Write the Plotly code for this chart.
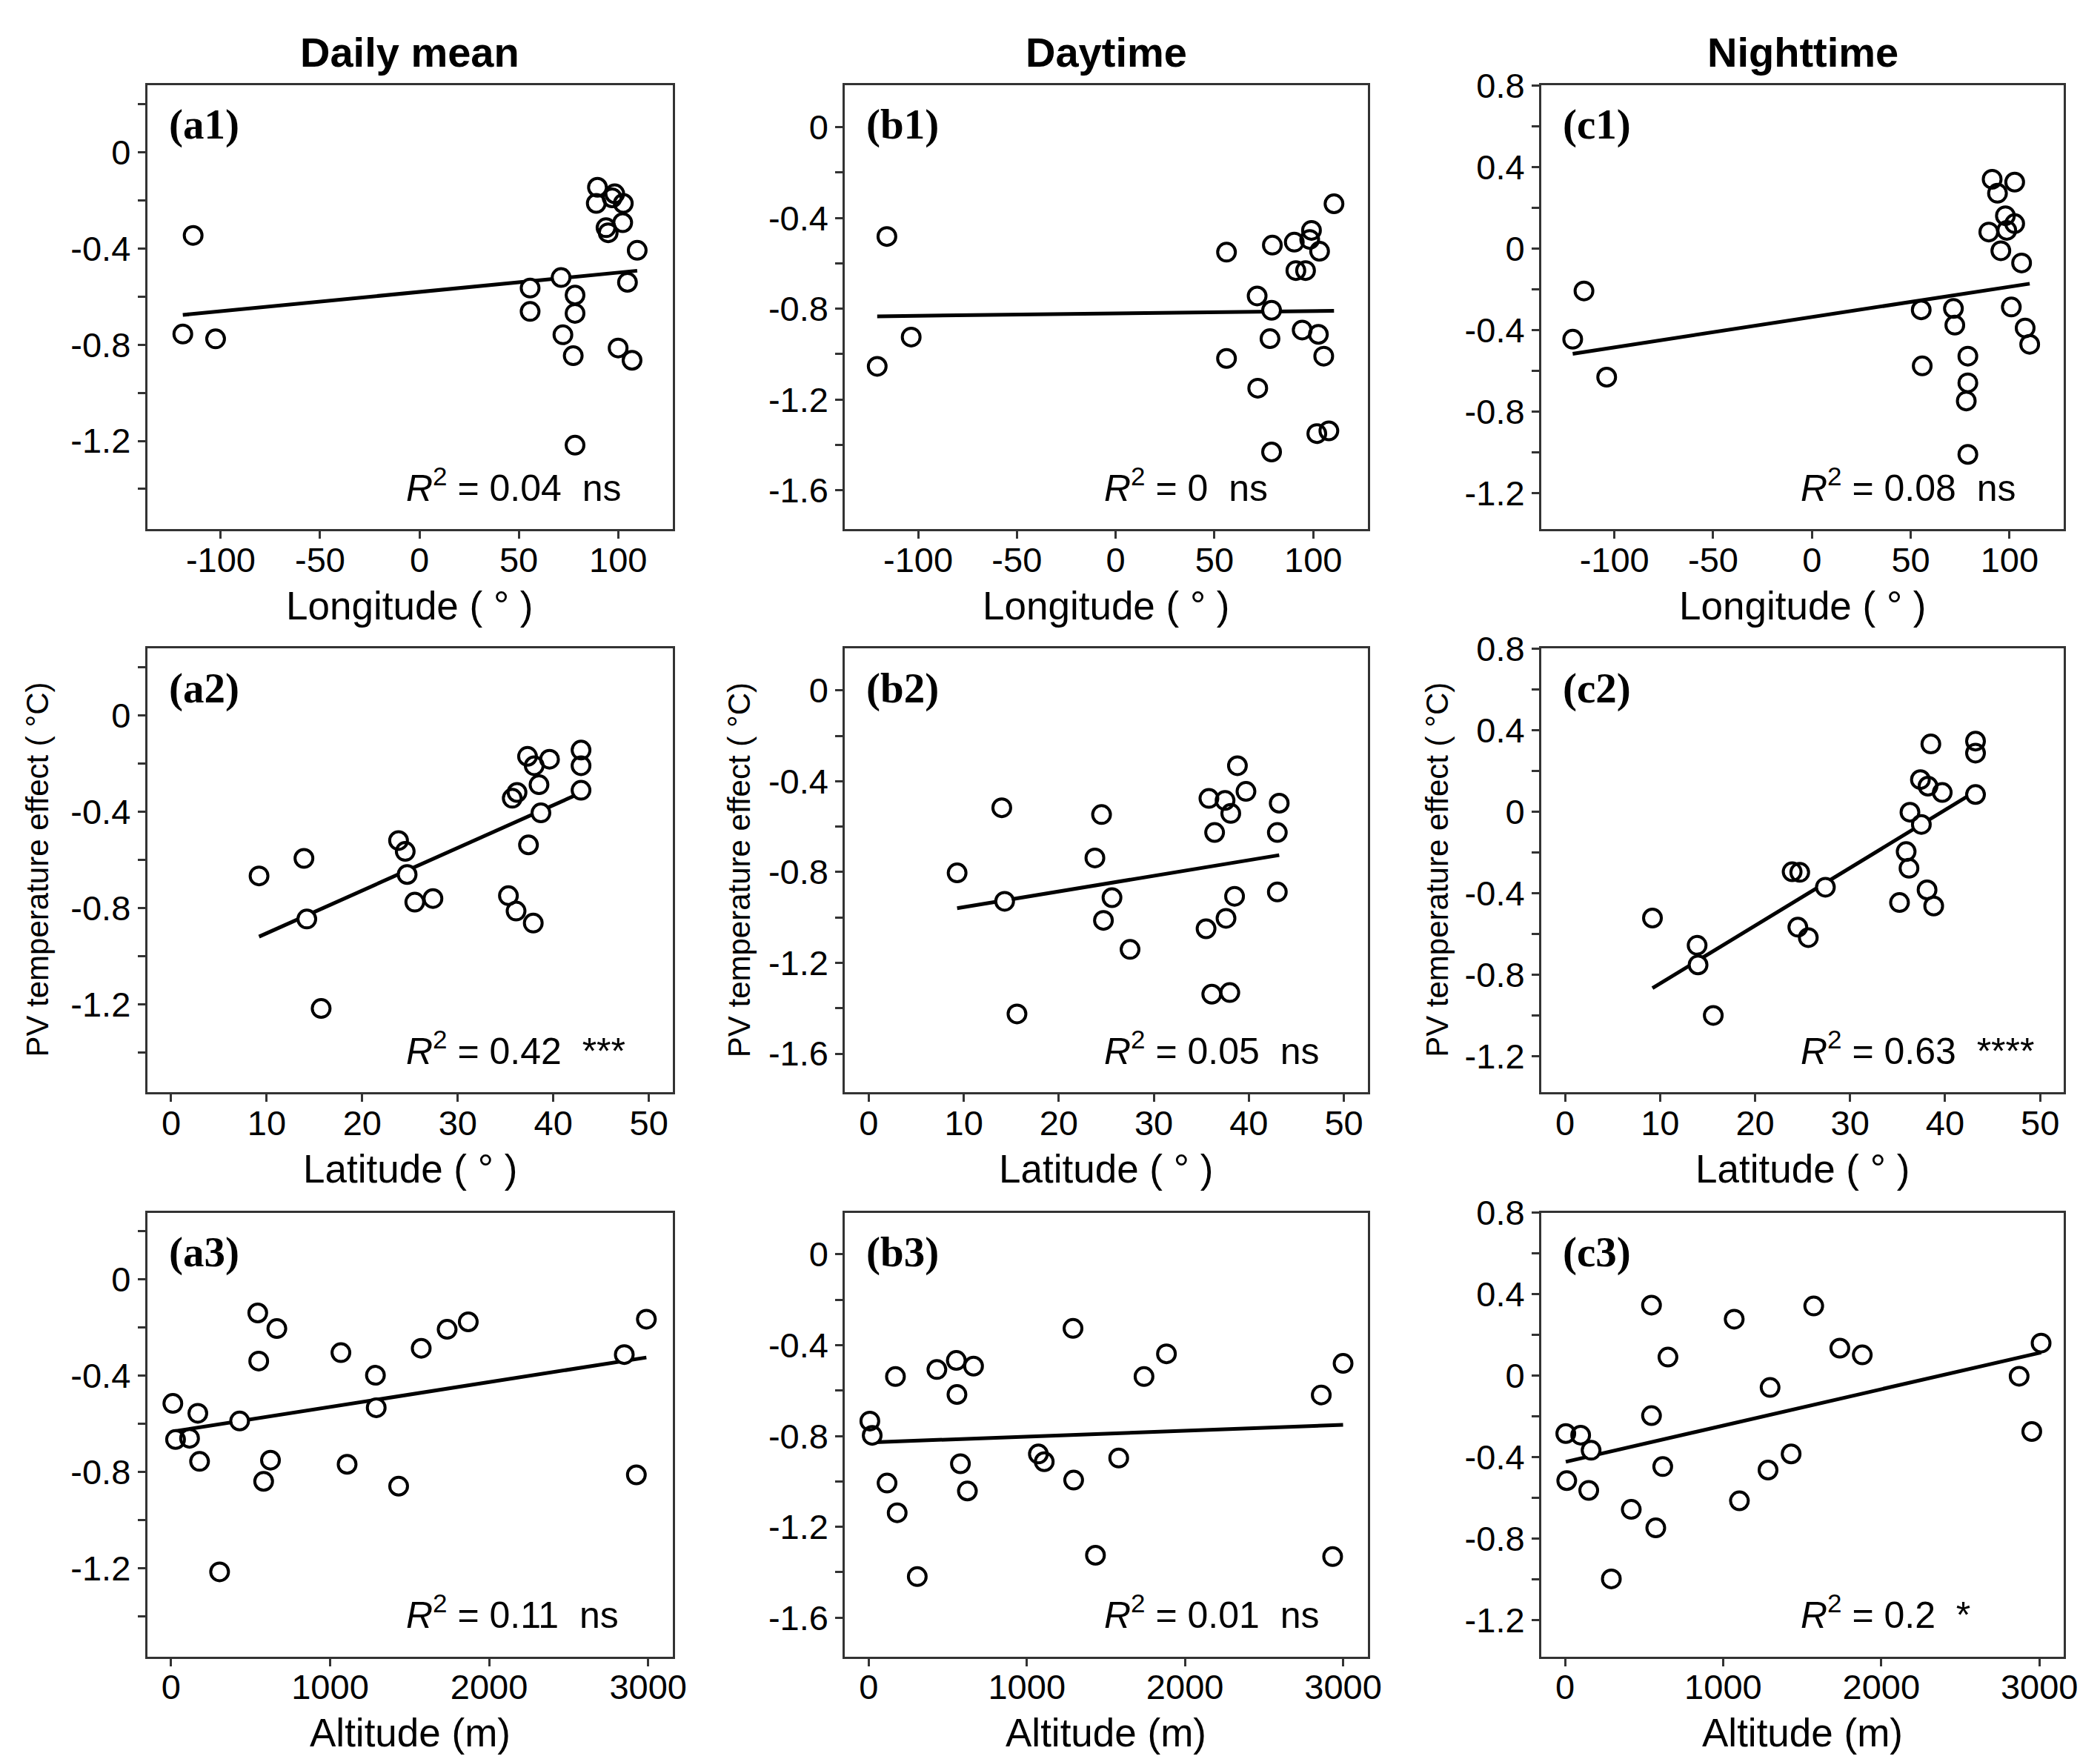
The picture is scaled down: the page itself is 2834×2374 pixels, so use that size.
import numpy as np
import plotly.graph_objects as go

# ------------------------------------------------------------
# values (one x list and one y list per panel)
# ------------------------------------------------------------

# Daily mean
a1_lon = [-113.9, -119.1, -102.6, 55.7, 55.7, 71.3, 78.3, 78.3, 72.2, 77.4, 78.3, 89.6,
          89.0, 98.3, 102.6, 93.9, 95.0, 102.3, 109.6, 104.7, 100.0, 107.0, 97.0]
a1_eff = [-0.346, -0.756, -0.776, -0.565, -0.662, -0.521, -0.594, -0.670, -0.759, -0.846, -1.218, -0.146,
          -0.213, -0.173, -0.213, -0.314, -0.335, -0.293, -0.408, -0.541, -0.814, -0.865, -0.190]

a2_lat = [9.2, 13.9, 14.2, 15.7, 23.8, 24.5, 24.7, 25.5, 27.4, 35.3, 36.1, 37.9,
          35.7, 36.2, 37.4, 37.3, 38.0, 39.6, 38.5, 38.7, 42.9, 42.9, 42.9]
a2_eff = [-0.667, -0.594, -0.846, -1.218, -0.520, -0.565, -0.661, -0.776, -0.761, -0.749, -0.813, -0.863,
          -0.344, -0.320, -0.538, -0.170, -0.209, -0.182, -0.288, -0.405, -0.144, -0.209, -0.311]

a3_alt = [11, 168, 28, 116, 179, 305, 431, 545, 665, 551, 625, 582,
          1068, 1107, 1285, 1290, 1431, 1573, 1736, 1869, 2850, 2989, 2926]
a3_eff = [-0.515, -0.556, -0.665, -0.660, -0.756, -1.215, -0.588, -0.139, -0.204, -0.339, -0.751, -0.839,
          -0.304, -0.768, -0.398, -0.533, -0.859, -0.286, -0.207, -0.176, -0.312, -0.165, -0.812]

# Daytime
b1_lon = [-115.8, -120.7, -103.5, 56.1, 56.1, 71.9, 71.6, 78.9, 78.1, 78.9, 79.3, 90.4,
          99.1, 98.2, 103.2, 91.2, 96.1, 94.4, 102.6, 105.3, 101.8, 107.9, 110.5]
b1_eff = [-0.482, -1.054, -0.925, -0.551, -1.019, -1.150, -0.744, -0.807, -0.932, -1.431, -0.520, -0.507,
          -0.455, -0.495, -0.547, -0.632, -0.632, -0.894, -0.913, -1.009, -1.350, -1.338, -0.338]

b2_lat = [9.3, 14.0, 14.3, 15.6, 24.5, 23.8, 25.6, 24.7, 27.5, 35.8, 37.5, 38.1,
          38.8, 39.7, 36.4, 43.2, 43.0, 43.0, 38.5, 37.6, 35.5, 36.1, 38.0]
b2_eff = [-0.804, -0.517, -0.929, -1.425, -0.547, -0.738, -0.913, -1.013, -1.141, -0.476, -0.485, -0.542,
          -0.332, -0.445, -0.626, -0.497, -0.626, -0.888, -0.907, -1.004, -1.050, -1.338, -1.331]

b3_alt = [7, 22, 169, 116, 180, 307, 431, 554, 663, 558, 580, 624,
          1073, 1110, 1292, 1296, 1434, 1581, 1741, 1883, 2862, 3000, 2934]
b3_eff = [-0.734, -0.797, -0.538, -1.007, -1.138, -1.419, -0.507, -0.467, -0.492, -0.617, -0.922, -1.042,
          -0.879, -0.913, -0.326, -0.994, -1.325, -0.897, -0.538, -0.438, -0.619, -0.480, -1.331]

# Nighttime
c1_lon = [-115.4, -121.1, -103.9, 55.3, 55.8, 71.6, 72.3, 78.9, 78.9, 78.1, 78.9, 91.2,
          93.9, 102.6, 97.9, 102.6, 89.5, 98.6, 95.6, 106.1, 100.9, 107.9, 110.2]
c1_eff = [-0.209, -0.446, -0.632, -0.302, -0.577, -0.295, -0.377, -0.529, -0.660, -0.749, -1.011, 0.339,
          0.270, 0.325, 0.160, 0.121, 0.080, 0.088, -0.012, -0.072, -0.288, -0.391, -0.471]

c2_lat = [9.2, 13.9, 14.0, 15.6, 23.9, 24.7, 24.5, 25.6, 27.4, 35.2, 35.9, 36.2,
          36.3, 37.5, 38.1, 38.8, 37.4, 38.2, 39.7, 38.5, 43.2, 43.2, 43.2]
c2_eff = [-0.522, -0.656, -0.752, -1.000, -0.295, -0.298, -0.567, -0.618, -0.371, -0.446, -0.196, -0.278,
          -0.003, -0.063, -0.384, -0.463, 0.157, 0.125, 0.094, 0.332, 0.346, 0.287, 0.084]

c3_alt = [5, 99, 165, 11, 150, 293, 419, 574, 618, 547, 547, 651,
          1070, 1103, 1297, 1284, 1430, 1573, 1738, 1880, 2872, 2952, 3011]
c3_eff = [-0.284, -0.292, -0.366, -0.515, -0.563, -0.997, -0.656, -0.747, -0.446, -0.196, 0.346, 0.091,
          0.277, -0.614, -0.058, -0.463, -0.384, 0.342, 0.135, 0.102, -0.003, -0.274, 0.160]

col_titles = ["Daily mean", "Daytime", "Nighttime"]
x_titles = ["Longitude ( ° )", "Latitude ( ° )", "Altitude (m)"]
y_title = "PV temperature effect ( °C)"

r2_texts = [
    ["0.04", "0.42", "0.11"],
    ["0", "0.05", "0.01"],
    ["0.08", "0.63", "0.2"],
]
sig_texts = [
    ["ns", "***", "ns"],
    ["ns", "ns", "ns"],
    ["ns", "****", "*"],
]

lon_ticks = [-100, -50, 0, 50, 100]
lat_ticks = [0, 10, 20, 30, 40, 50]
alt_ticks = [0, 1000, 2000, 3000]

# y ticks: labelled ones and the unlabelled ones in between
ya_major = [0, -0.4, -0.8, -1.2]
ya_minor = [0.2, -0.2, -0.6, -1.0, -1.4]
yb_major = [0, -0.4, -0.8, -1.2, -1.6]
yb_minor = [-0.2, -0.6, -1.0, -1.4]
yc_major = [0.8, 0.4, 0, -0.4, -0.8, -1.2]
yc_minor = [0.6, 0.2, -0.2, -0.6, -1.0, -1.4]

# ------------------------------------------------------------
# layout (pixel positions of the panels in the 2834 x 2374 figure)
# ------------------------------------------------------------
W, H = 2834, 2374
col_px = [(192, 906), (1140, 1850), (2086, 2796)]
row_px = [(81, 687), (850, 1456), (1620, 2226)]

x_ranges = [[-137, 127.5], [-2.5, 52.5], [-150, 3155]]
x_ticks = [lon_ticks, lat_ticks, alt_ticks]
y_ranges = [[-1.567, 0.278], [-1.771, 0.184], [-1.378, 0.80]]
y_major = [ya_major, yb_major, yc_major]
y_minor = [ya_minor, yb_minor, yc_minor]
ytitle_x = [43, 997, 1945]

panels = [
    [(a1_lon, a1_eff), (a2_lat, a2_eff), (a3_alt, a3_eff)],
    [(b1_lon, b1_eff), (b2_lat, b2_eff), (b3_alt, b3_eff)],
    [(c1_lon, c1_eff), (c2_lat, c2_eff), (c3_alt, c3_eff)],
]

FONT = "Liberation Sans, Arial, sans-serif"
SERIF = "Liberation Serif, Times New Roman, serif"
AXCOL = "#333333"


def px_x(p):
    return p / W


def px_y(p):
    return 1 - p / H


fig = go.Figure()
annotations = []

for row in range(3):
    for col in range(3):
        k = row * 3 + col + 1
        xa = "x" if k == 1 else f"x{k}"
        ya = "y" if k == 1 else f"y{k}"
        xs, ys = panels[col][row]
        xs = np.array(xs, dtype=float)
        ys = np.array(ys, dtype=float)

        # regression line
        slope, intercept = np.polyfit(xs, ys, 1)
        xl = np.array([xs.min(), xs.max()])
        fig.add_trace(go.Scatter(
            x=xl, y=slope * xl + intercept, mode="lines",
            line=dict(color="black", width=5),
            xaxis=xa, yaxis=ya, showlegend=False, hoverinfo="skip"
        ))
        # white fill under circles so the line does not show through
        fig.add_trace(go.Scatter(
            x=xs, y=ys, mode="markers",
            marker=dict(symbol="circle", size=21, color="white", line=dict(width=0)),
            xaxis=xa, yaxis=ya, showlegend=False, hoverinfo="skip"
        ))
        # open circles
        fig.add_trace(go.Scatter(
            x=xs, y=ys, mode="markers",
            marker=dict(symbol="circle-open", size=24, color="black", line=dict(width=4)),
            xaxis=xa, yaxis=ya, showlegend=False
        ))

        x0, x1 = col_px[col]
        y0, y1 = row_px[row]

        common = dict(
            showline=True, mirror=True, linecolor=AXCOL, linewidth=3,
            ticks="outside", ticklen=10, tickwidth=3, tickcolor=AXCOL,
            showgrid=False, zeroline=False,
            tickfont=dict(family=FONT, size=47, color="black"),
        )
        fig.layout[("xaxis" if k == 1 else f"xaxis{k}")] = dict(
            domain=[px_x(x0), px_x(x1)], range=x_ranges[row], anchor=ya,
            tickmode="array", tickvals=x_ticks[row],
            ticktext=[str(t) for t in x_ticks[row]],
            ticklabelstandoff=-12, **common
        )
        fig.layout[("yaxis" if k == 1 else f"yaxis{k}")] = dict(
            domain=[px_y(y1), px_y(y0)], range=y_ranges[col], anchor=xa,
            tickmode="array", tickvals=y_major[col],
            ticktext=[f"{v:g}" for v in y_major[col]],
            minor=dict(tickmode="array", tickvals=y_minor[col], ticks="outside",
                       ticklen=10, tickwidth=3, tickcolor=AXCOL, showgrid=False),
            **common
        )

        # panel label
        annotations.append(dict(
            text=f"<b>({'abc'[col]}{row + 1})</b>", xref="paper", yref="paper",
            x=px_x(x0 + 27), y=px_y(y0 + 54), xanchor="left", yanchor="middle",
            showarrow=False, font=dict(family=SERIF, size=57, color="black")
        ))
        # R2 text
        annotations.append(dict(
            text=f"<i>R</i><sup>2</sup> = {r2_texts[col][row]}\u00a0\u00a0{sig_texts[col][row]}",
            xref="paper", yref="paper", x=px_x(x0 + 350), y=px_y(y0 + 546),
            xanchor="left", yanchor="middle",
            showarrow=False, font=dict(family=FONT, size=50, color="black")
        ))
        # x title
        annotations.append(dict(
            text=x_titles[row], xref="paper", yref="paper",
            x=px_x((x0 + x1) / 2), y=px_y(y0 + 710),
            xanchor="center", yanchor="middle", showarrow=False,
            font=dict(family=FONT, size=53, color="black")
        ))
        if row == 1:
            annotations.append(dict(
                text=y_title, xref="paper", yref="paper",
                x=px_x(ytitle_x[col]), y=px_y(1152),
                xanchor="center", yanchor="middle", textangle=-90, showarrow=False,
                font=dict(family=FONT, size=42, color="black")
            ))
        if row == 0:
            annotations.append(dict(
                text=f"<b>{col_titles[col]}</b>", xref="paper", yref="paper",
                x=px_x((x0 + x1) / 2), y=px_y(36), xanchor="center", yanchor="middle",
                showarrow=False, font=dict(family=FONT, size=56, color="black")
            ))

fig.update_layout(
    width=W, height=H, autosize=False,
    margin=dict(l=0, r=0, t=0, b=0),
    paper_bgcolor="white", plot_bgcolor="white",
    annotations=annotations,
)

fig.write_html("out.html")
